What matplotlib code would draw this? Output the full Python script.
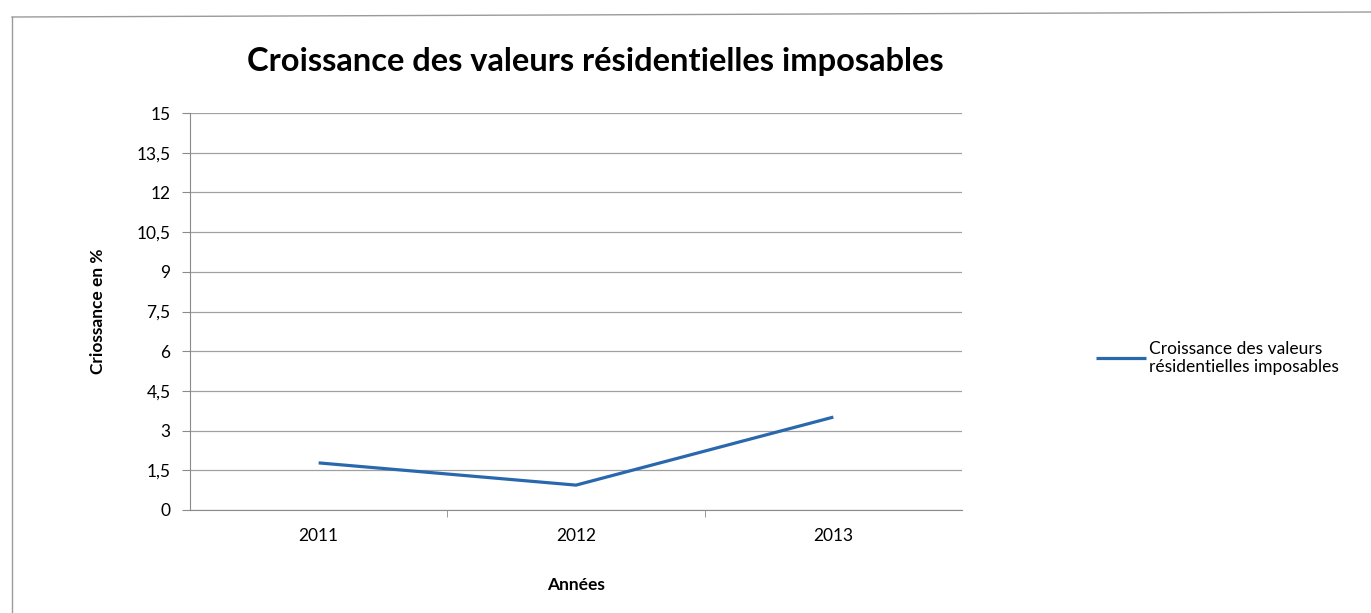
import matplotlib
matplotlib.use('Agg')
import matplotlib.pyplot as plt
from matplotlib.ticker import FuncFormatter, FixedLocator
from matplotlib.lines import Line2D

years = ['2011', '2012', '2013']
croissance = [1.78, 0.94, 3.51]
y_ticks = [0, 1.5, 3, 4.5, 6, 7.5, 9, 10.5, 12, 13.5, 15]

plt.rcParams['font.family'] = ['Lato', 'DejaVu Sans']

fig = plt.figure(figsize=(13.71, 6.13), dpi=100)
ax = fig.add_axes([190 / 1371, 1 - 510 / 613, (962 - 190) / 1371, (510 - 113) / 613])

x = list(range(len(years)))
ax.plot(x, croissance, '-', lw=2.3, color='#2a68ad', solid_capstyle='butt',
        label='Croissance des valeurs\nrésidentielles imposables')

ax.set_xlim(-0.5, len(years) - 0.5)
ax.set_ylim(0, 15)
ax.set_yticks(y_ticks)
ax.yaxis.set_major_formatter(FuncFormatter(lambda v, p: ('%g' % v).replace('.', ',')))
ax.set_xticks(x)
ax.set_xticklabels(years)
ax.xaxis.set_minor_locator(FixedLocator([i + 0.5 for i in x[:-1]]))

ax.grid(axis='y', color='#a0a0a0', lw=0.9)
ax.set_axisbelow(True)
for s in ['top', 'right']:
	ax.spines[s].set_visible(False)
for s in ['left', 'bottom']:
	ax.spines[s].set_color('#8a8a8a')
ax.tick_params(axis='y', length=6, color='#8a8a8a', labelsize=12.5, pad=8)
ax.tick_params(axis='x', which='major', length=0, labelsize=12.5, pad=13)
ax.tick_params(axis='x', which='minor', length=5, color='#8a8a8a')

ax.set_ylabel('Criossance en %', fontsize=12.5, fontweight='bold', labelpad=22)
ax.set_xlabel('Années', fontsize=12.5, fontweight='bold', labelpad=24)
fig.text(595 / 1371, 1 - 62 / 613, 'Croissance des valeurs résidentielles imposables',
         ha='center', va='center', fontsize=23.5, fontweight='bold')

ax.legend(loc='center left', bbox_to_anchor=(1096 / 1371, 1 - 358 / 613),
          bbox_transform=fig.transFigure, frameon=False, fontsize=12.5,
          handlelength=2.9, handletextpad=0.15, borderpad=0, borderaxespad=0)

# scan frame
fig.add_artist(Line2D([12 / 1371, 12 / 1371], [0, 1 - 17 / 613], transform=fig.transFigure,
                      color='#9a9a9a', lw=1))
fig.add_artist(Line2D([12 / 1371, 1], [1 - 17 / 613, 1 - 12 / 613], transform=fig.transFigure,
                      color='#9a9a9a', lw=1))

fig.savefig('out.png', dpi=100)
